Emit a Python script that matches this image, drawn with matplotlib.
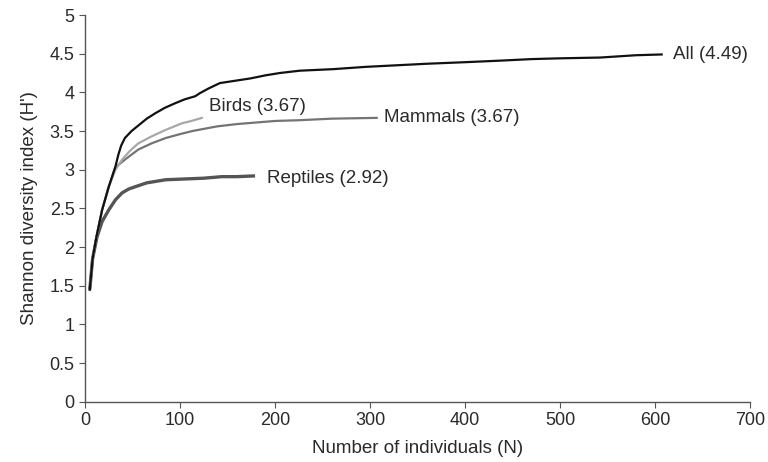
import matplotlib
matplotlib.use("Agg")
import matplotlib.pyplot as plt
from matplotlib.ticker import FuncFormatter

plt.rcParams['font.family'] = ['Liberation Sans', 'DejaVu Sans']

all_n = [5, 8, 12, 18, 25, 32, 35, 38, 42, 49, 57, 65, 74, 84, 95, 105, 116, 121, 130, 142, 158, 174, 190, 205, 226, 261, 296, 328, 360, 400, 437, 470, 500, 542, 580, 607]
all_h = [1.45, 1.85, 2.13, 2.48, 2.78, 3.04, 3.19, 3.31, 3.41, 3.50, 3.58, 3.66, 3.73, 3.80, 3.86, 3.91, 3.95, 3.99, 4.05, 4.12, 4.15, 4.18, 4.22, 4.25, 4.28, 4.30, 4.33, 4.35, 4.37, 4.39, 4.41, 4.43, 4.44, 4.45, 4.48, 4.49]

birds_n = [5, 8, 12, 18, 25, 32, 39, 47, 56, 70, 84, 102, 112, 123]
birds_h = [1.45, 1.85, 2.13, 2.48, 2.78, 3.0, 3.13, 3.24, 3.34, 3.43, 3.51, 3.60, 3.63, 3.67]

mammals_n = [5, 8, 12, 18, 25, 32, 42, 56, 70, 85, 100, 113, 139, 160, 180, 200, 226, 260, 307]
mammals_h = [1.45, 1.85, 2.13, 2.48, 2.78, 3.03, 3.13, 3.26, 3.34, 3.41, 3.46, 3.50, 3.56, 3.59, 3.61, 3.63, 3.64, 3.66, 3.67]

reptiles_n = [5, 8, 12.6, 18, 25, 32, 39, 46, 53, 65, 85, 105, 125, 144, 160, 179]
reptiles_h = [1.45, 1.85, 2.13, 2.33, 2.48, 2.61, 2.70, 2.75, 2.78, 2.83, 2.87, 2.88, 2.89, 2.91, 2.91, 2.92]

labels = ["All (4.49)", "Birds (3.67)", "Mammals (3.67)", "Reptiles (2.92)"]
label_pos = [(619, 4.49), (130, 3.82), (315, 3.67), (192, 2.88)]

fig = plt.figure(figsize=(7.68, 4.62), dpi=100)
ax = fig.add_axes([0.1107, 0.1305, 0.8659, 0.837])

ax.plot(reptiles_n, reptiles_h, color='#555555', lw=2.4, solid_capstyle='butt')
ax.plot(mammals_n, mammals_h, color='#747474', lw=1.6)
ax.plot(birds_n, birds_h, color='#a8a8a8', lw=1.6)
ax.plot(all_n, all_h, color='#111111', lw=1.6)

for t, (x, y) in zip(labels, label_pos):
    ax.text(x, y, t, fontsize=13.5, va='center', ha='left', color='#2a2a2a')

ax.set_xlim(0, 700)
ax.set_ylim(0, 5)
ax.set_xticks(range(0, 701, 100))
ax.set_yticks([i * 0.5 for i in range(11)])
ax.yaxis.set_major_formatter(FuncFormatter(lambda v, p: f"{v:g}"))
for s in ['top', 'right']:
    ax.spines[s].set_visible(False)
for s in ['left', 'bottom']:
    ax.spines[s].set_color('#555555')
    ax.spines[s].set_linewidth(1.0)
ax.tick_params(direction='out', length=4, color='#555555', labelsize=13, labelcolor='#2a2a2a')
ax.set_xlabel("Number of individuals (N)", fontsize=13.5, color='#2a2a2a', labelpad=8)
ax.set_ylabel("Shannon diversity index (H')", fontsize=13.5, color='#2a2a2a', labelpad=8)

fig.savefig("out.png", dpi=100)
